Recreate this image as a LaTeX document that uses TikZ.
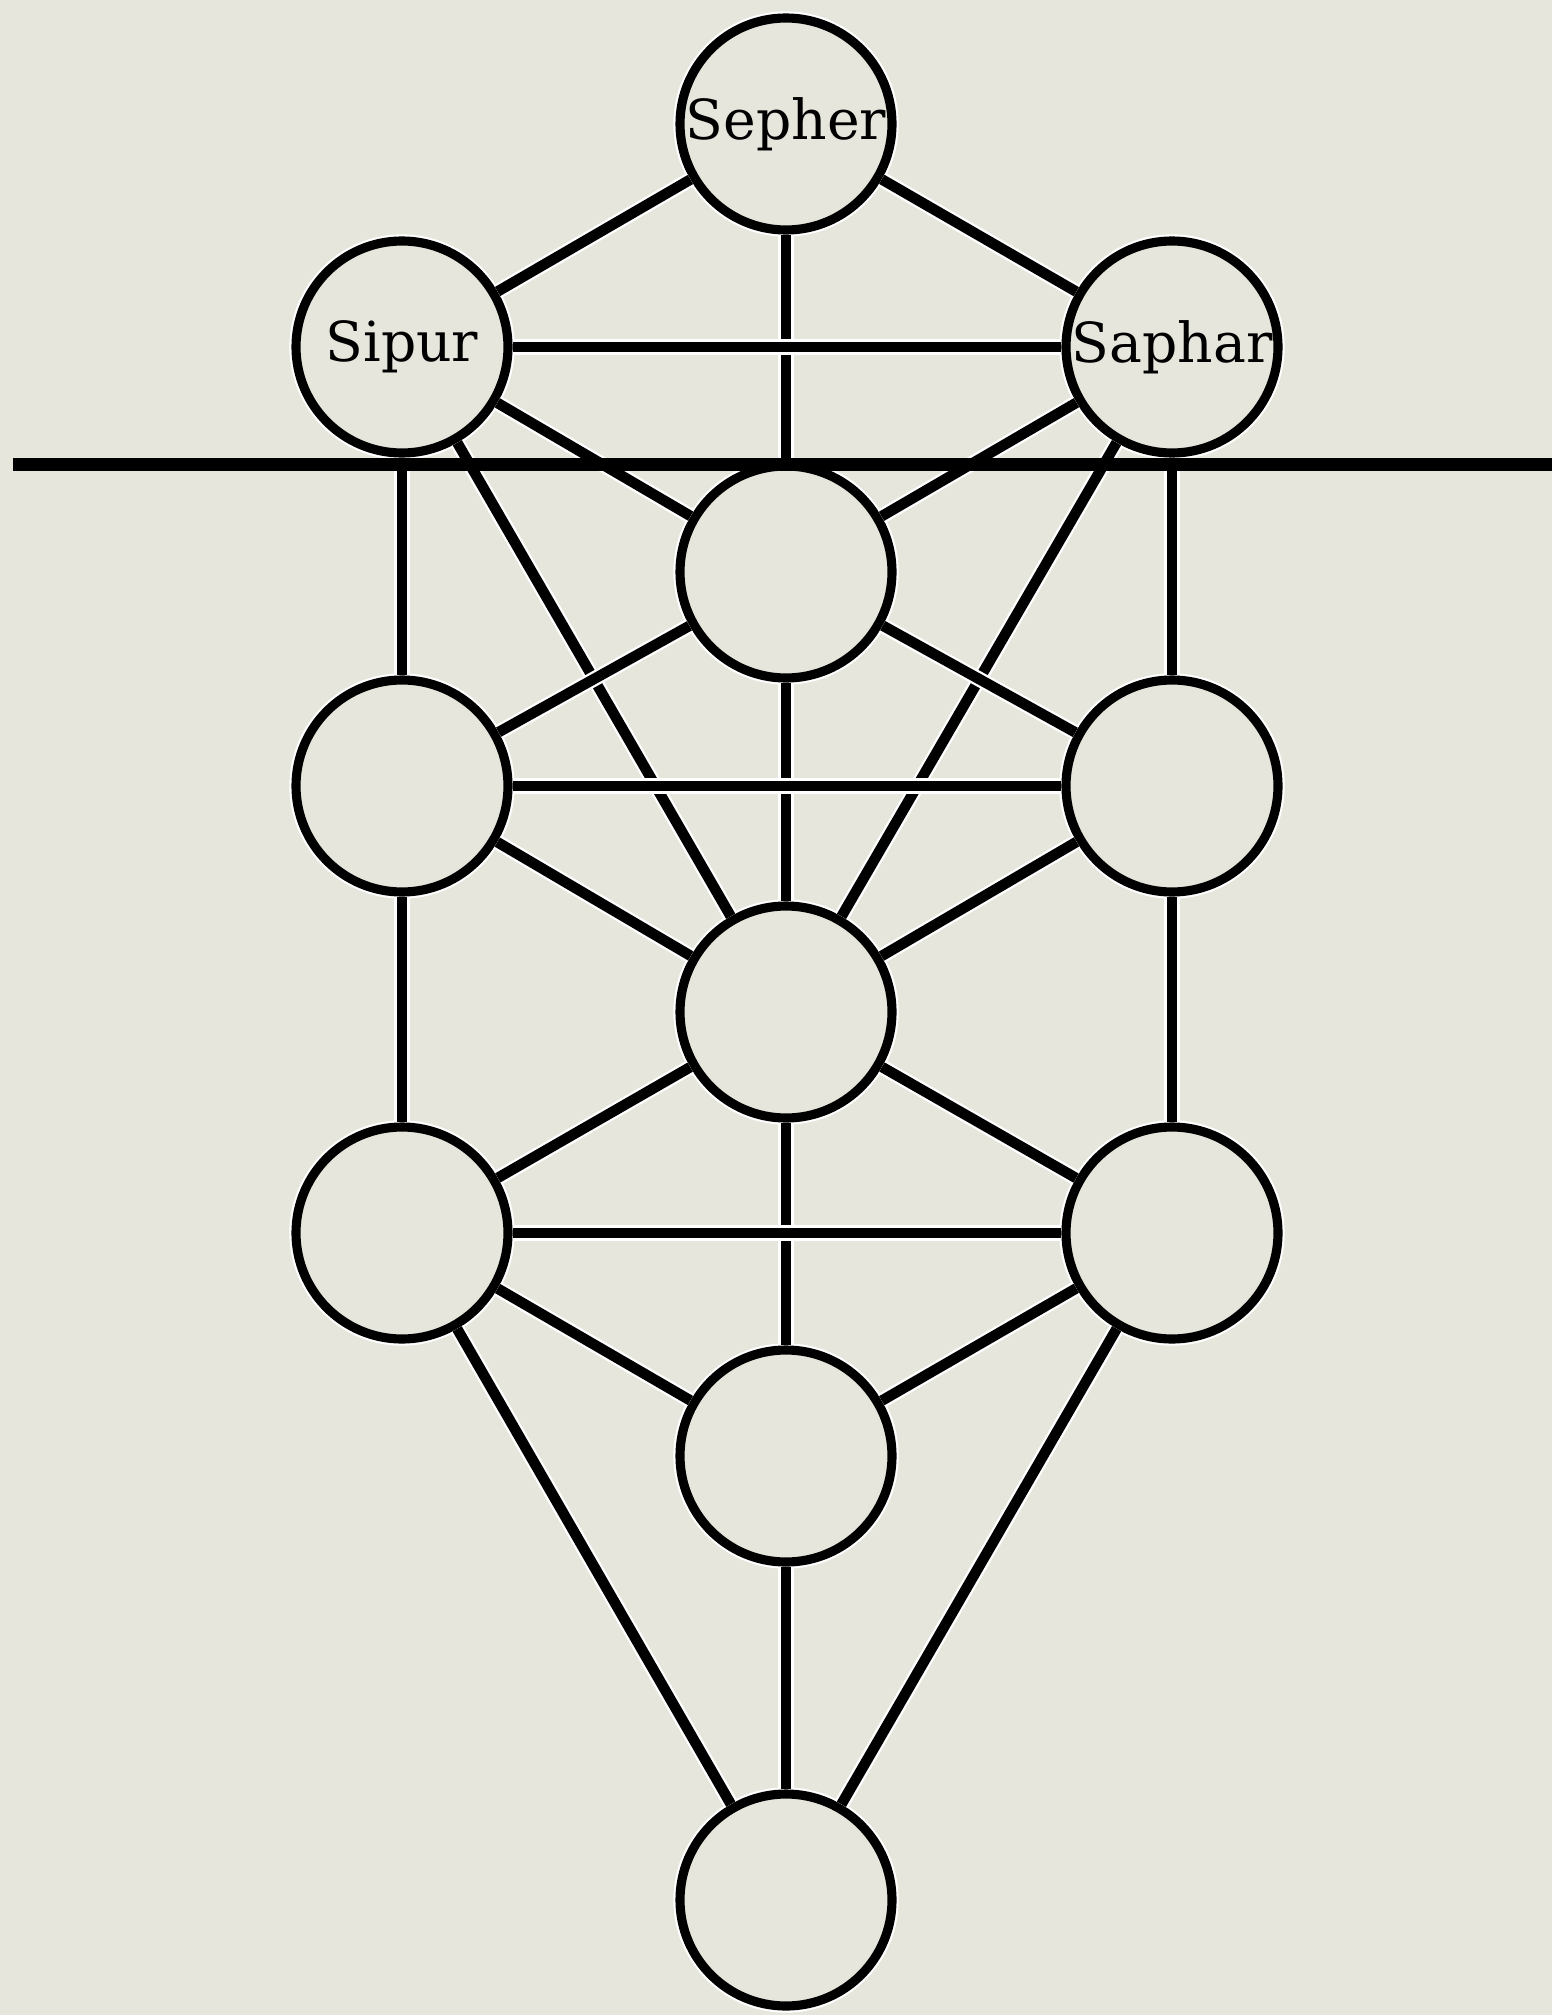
\documentclass[tikz,border=0pt]{standalone}
\usepackage{fontspec}
\setmainfont{DejaVu Serif}
\usetikzlibrary{positioning}
\definecolor{Parchment}{RGB}{230,230,221}

\begin{document}
\begin{tikzpicture}[
  sphere/.style={circle, draw=black, line width=2.6pt, fill=Parchment, minimum size=2.12cm, inner sep=0pt,
    preaction={draw=white, line width=3.8pt}, font=\fontsize{15.7}{19}\selectfont},
  link/.style={line width=3pt, draw=black},
  glow/.style={line width=4.3pt, draw=white},
  rule/.style={line width=3.7pt, draw=black}
]
  % page and background
  \fill[Parchment] (0,0) rectangle (15.52,-20.15);
  \useasboundingbox (0,0) rectangle (15.52,-20.15);

  % the spheres
  \node[sphere] (sepher) at (7.86,-1.24) {Sepher};
  \node[sphere] (sipur)  at (4.02,-3.47) {Sipur};
  \node[sphere] (saphar) at (11.72,-3.47) {Saphar};
  \node[sphere] (c1)     at (7.86,-5.72) {};
  \node[sphere] (left2)  at (4.02,-7.86) {};
  \node[sphere] (right2) at (11.72,-7.86) {};
  \node[sphere] (mid)    at (7.86,-10.12) {};
  \node[sphere] (left3)  at (4.02,-12.33) {};
  \node[sphere] (right3) at (11.72,-12.33) {};
  \node[sphere] (yesod)  at (7.86,-14.56) {};
  \node[sphere] (malkuth) at (7.86,-19.00) {};

  % the paths
  \foreach \a/\b in {sepher/sipur, sepher/saphar, sepher/c1, sipur/saphar,
      sipur/c1, saphar/c1, sipur/left2, saphar/right2, sipur/mid, saphar/mid,
      c1/left2, c1/right2, c1/mid, left2/right2, left2/mid, right2/mid,
      left2/left3, right2/right3, mid/left3, mid/right3, mid/yesod,
      left3/right3, left3/yesod, right3/yesod, left3/malkuth,
      right3/malkuth, yesod/malkuth} {
    \draw[glow] (\a) -- (\b);
    \draw[link] (\a) -- (\b);
  }

  % the dividing line
  \coordinate (ruleW) at (0.13,-4.64);
  \coordinate (ruleE) at (15.52,-4.64);
  \draw[rule] (ruleW) -- (ruleE);
\end{tikzpicture}
\end{document}
